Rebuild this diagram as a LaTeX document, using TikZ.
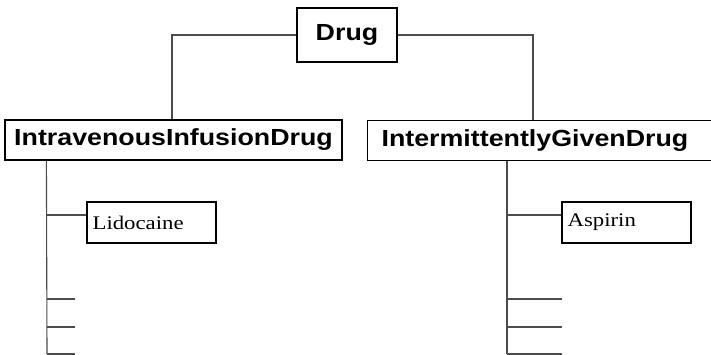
\documentclass[tikz,border=0pt]{standalone}
\usepackage{fontspec}
\newfontfamily\classfont[FakeStretch=1.15]{Liberation Sans}
\newfontfamily\instfont[FakeStretch=1.18]{Liberation Serif}
\begin{document}
\begin{tikzpicture}[x=1pt,y=-1pt,
  classbox/.style={draw=black, line width=1.2pt, fill=white, inner sep=0pt,
    font=\classfont\bfseries\fontsize{23.3}{26}\selectfont},
  instbox/.style={draw=black, line width=1.2pt, fill=white, inner xsep=5pt,
    minimum height=40pt, text width=118pt, align=left, anchor=north west,
    font=\instfont\fontsize{19.3}{22}\selectfont},
  link/.style={draw=black!70, line width=1.1pt}]
  \fill[white] (0,0) rectangle (711,355);
  \useasboundingbox (0,0) rectangle (711,355);

  % subclass links are drawn first so the boxes sit above them
  \coordinate (dw) at (297,35);
  \coordinate (de) at (397,35);
  \coordinate (ivtop) at (172,120);
  \coordinate (igtop) at (533,120);

  % class boxes
  \node[classbox, minimum width=100pt, minimum height=54pt] (drug) at (347,35)
    {\raisebox{4pt}{Drug}};
  \node[classbox, minimum width=337pt, minimum height=40pt] (ivd) at (173.5,140)
    {IntravenousInfusionDrug};
  \node[classbox, anchor=north west, minimum height=40pt, text width=334pt,
        inner xsep=14pt, align=left] (igd) at (367,120) {IntermittentlyGivenDrug};

  % instance boxes
  \node[instbox] (lido) at (87,202) {Lidocaine};
  \node[instbox] (asp) at (562,202) {Aspirin};

  \draw[link] (drug.west) -| ([xshift=-1.5pt]ivd.north);
  \draw[link] (drug.east) -| ([xshift=166pt]igd.north west);

  % instance spines and slots
  \coordinate (ls) at ([xshift=42pt]ivd.south west);
  \coordinate (lb) at (47,354);
  \coordinate (l1) at (75,299);
  \coordinate (l2) at (75,327);
  \coordinate (l3) at (75,354);
  \draw[link] (ls) -- (lb);
  \draw[link] (lido.west |- 0,215) -- (47,215);
  \draw[link] (l1) -- (47,299);
  \draw[link] (l2) -- (47,327);
  \draw[link] (l3) -- (47,354);

  \coordinate (rs) at ([xshift=140pt]igd.south west);
  \coordinate (rb) at (507,354);
  \coordinate (r1) at (562,299);
  \coordinate (r2) at (562,327);
  \coordinate (r3) at (562,354);
  \draw[link] (rs) -- (rb);
  \draw[link] (asp.west |- 0,215) -- (507,215);
  \draw[link] (r1) -- (507,299);
  \draw[link] (r2) -- (507,327);
  \draw[link] (r3) -- (507,354);

  % redraw box outlines above the link ends
  \draw[line width=1.2pt] (drug.north west) rectangle (drug.south east);
  \draw[line width=1.2pt] (lido.north west) rectangle (lido.south east);
  \draw[line width=1.2pt] (asp.north west) rectangle (asp.south east);
\end{tikzpicture}
\end{document}
